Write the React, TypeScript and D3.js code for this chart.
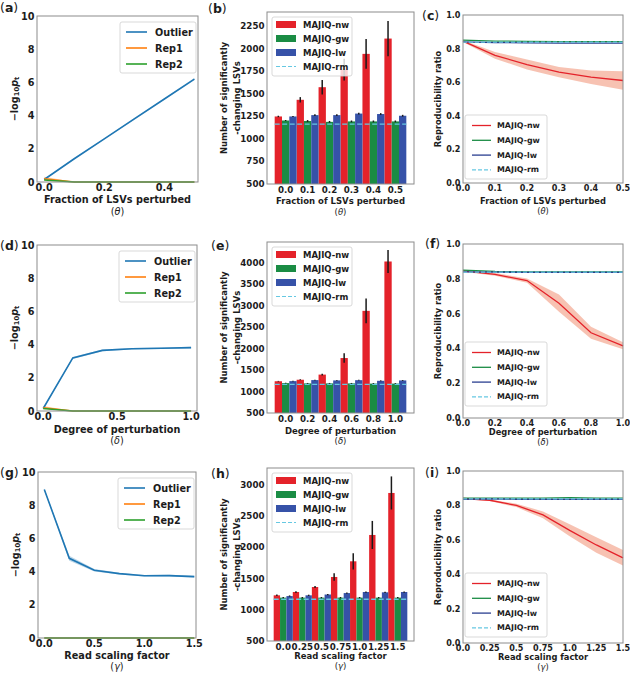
import React from 'react';
import * as d3 from 'd3';

// ---------------- data ----------------
const thetaX = [0, 0.1, 0.2, 0.3, 0.4, 0.5];
const deltaX = [0, 0.2, 0.4, 0.6, 0.8, 1.0];
const gammaX = [0, 0.25, 0.5, 0.75, 1.0, 1.25, 1.5];

const thetaCats = ['0.0', '0.1', '0.2', '0.3', '0.4', '0.5'];
const deltaCats = ['0.0', '0.2', '0.4', '0.6', '0.8', '1.0'];
const gammaCats = ['0.0', '0.25', '0.5', '0.75', '1.0', '1.25', '1.5'];

const scoreTicks = [0, 2, 4, 6, 8, 10];
const aTicks = [0, 0.2, 0.4];
const aTickLabels = ['0.0', '0.2', '0.4'];
const dTicks = [0, 0.5, 1.0];
const dTickLabels = ['0.0', '0.5', '1.0'];
const gTicks = [0, 0.5, 1.0, 1.5];
const gTickLabels = ['0.0', '0.5', '1.0', '1.5'];

// (a) (d) (g): -log10 p
const outlierTheta = [0.15, 1.4, 2.6, 3.8, 5.0, 6.2];
const outlierThetaErr = [0.03, 0.04, 0.04, 0.05, 0.05, 0.06];
const rep1Theta = [0.2, 0.0, 0.0, 0.0, 0.0, 0.0];
const rep1ThetaErr = [0.12, 0.0, 0.0, 0.0, 0.0, 0.0];
const rep2Theta = [0.12, 0.0, 0.0, 0.0, 0.0, 0.0];

const outlierDelta = [0.15, 3.2, 3.65, 3.75, 3.78, 3.82];
const outlierDeltaErr = [0.03, 0.06, 0.05, 0.05, 0.05, 0.05];
const rep1Delta = [0.2, 0.0, 0.0, 0.0, 0.0, 0.0];
const rep1DeltaErr = [0.1, 0.0, 0.0, 0.0, 0.0, 0.0];
const rep2Delta = [0.15, 0.0, 0.0, 0.0, 0.0, 0.0];

const outlierGamma = [8.95, 4.8, 4.08, 3.88, 3.75, 3.76, 3.7];
const outlierGammaErr = [0.05, 0.15, 0.08, 0.05, 0.05, 0.05, 0.05];
const rep1Gamma = [0.0, 0.0, 0.0, 0.0, 0.0, 0.0, 0.0];
const rep1GammaErr = [0.0, 0.0, 0.0, 0.0, 0.0, 0.0, 0.0];
const rep2Gamma = [0.0, 0.0, 0.0, 0.0, 0.0, 0.0, 0.0];

// (b) (e) (h): number of significantly changing LSVs
const nwTheta = [1250, 1435, 1575, 1770, 1945, 2115];
const nwThetaErr = [8, 30, 80, 120, 165, 195];
const gwTheta = [1205, 1200, 1190, 1195, 1195, 1195];
const lwTheta = [1250, 1265, 1265, 1282, 1277, 1258];
const smallErrTheta = [6, 10, 10, 10, 10, 10];
const rmTheta = 1165;
const yTicksTheta = [500, 750, 1000, 1250, 1500, 1750, 2000, 2250];

const nwDelta = [1240, 1275, 1395, 1780, 2880, 4030];
const nwDeltaErr = [8, 10, 20, 110, 290, 270];
const gwDelta = [1197, 1190, 1190, 1190, 1185, 1185];
const lwDelta = [1243, 1267, 1259, 1265, 1250, 1259];
const smallErrDelta = [8, 10, 10, 10, 10, 10];
const rmDelta = 1166;
const yTicksDelta = [500, 1000, 1500, 2000, 2500, 3000, 3500, 4000];

const nwGamma = [1232, 1285, 1365, 1526, 1777, 2199, 2872];
const nwGammaErr = [12, 14, 16, 60, 130, 225, 265];
const gwGamma = [1195, 1195, 1195, 1195, 1195, 1195, 1195];
const lwGamma = [1220, 1232, 1245, 1268, 1285, 1280, 1285];
const smallErrGamma = [10, 10, 10, 10, 10, 10, 10];
const rmGamma = 1170;
const yTicksGamma = [500, 1000, 1500, 2000, 2500, 3000];

// (c) (f) (i): reproducibility ratio
const ratioTicks = [0, 0.2, 0.4, 0.6, 0.8, 1.0];
const ratioTickLabels = ['0.0', '0.2', '0.4', '0.6', '0.8', '1.0'];

const nwRepTheta = [0.845, 0.76, 0.705, 0.66, 0.63, 0.61];
const nwRepThetaErr = [0.005, 0.02, 0.03, 0.03, 0.04, 0.055];
const gwRepTheta = [0.85, 0.845, 0.843, 0.842, 0.842, 0.842];
const lwRepTheta = [0.84, 0.836, 0.834, 0.833, 0.832, 0.832];
const rmRepTheta = [0.838, 0.838, 0.838, 0.838, 0.838, 0.838];

const nwRepDelta = [0.845, 0.825, 0.79, 0.66, 0.49, 0.415];
const nwRepDeltaErr = [0.005, 0.008, 0.012, 0.05, 0.035, 0.02];
const gwRepDelta = [0.85, 0.842, 0.84, 0.84, 0.84, 0.84];
const lwRepDelta = [0.84, 0.838, 0.837, 0.837, 0.837, 0.837];
const rmRepDelta = [0.838, 0.838, 0.838, 0.838, 0.838, 0.838];

const nwRepGamma = [0.84, 0.83, 0.80, 0.745, 0.655, 0.57, 0.495];
const nwRepGammaErr = [0.003, 0.005, 0.01, 0.02, 0.035, 0.045, 0.045];
const gwRepGamma = [0.842, 0.842, 0.842, 0.842, 0.845, 0.842, 0.842];
const lwRepGamma = [0.835, 0.838, 0.835, 0.835, 0.835, 0.835, 0.835];
const rmRepGamma = [0.838, 0.838, 0.838, 0.838, 0.838, 0.838, 0.838];

// ---------------- style ----------------
const FONT = "'DejaVu Sans', 'Liberation Sans', sans-serif";
const INK = '#1c1c1c';
const SPINE = '#8c8c8c';
const C_OUT = '#1f77b4';
const C_REP1 = '#ff7f0e';
const C_REP2 = '#2ca02c';
const C_NW = '#e4222a';
const C_GW = '#1a8c44';
const C_LW = '#3652a8';
const C_LW_LINE = '#2a3f90';
const C_RM = '#66c8e2';
const C_BAND = '#f29a7e';

type Box = { l: number; r: number; t: number; b: number };

const tp = (fs: number, weight = 700) => ({ fontFamily: FONT, fontSize: fs, fontWeight: weight, fill: INK });

function Frame({ box }: { box: Box }) {
  return <rect x={box.l} y={box.t} width={box.r - box.l} height={box.b - box.t} fill="none" stroke={SPINE} strokeWidth={1} />;
}

function Letter({ letter, pos }: { letter: string; pos: [number, number] }) {
  return (
    <text x={pos[0]} y={pos[1]} {...tp(12.5, 400)}>
      (<tspan fontWeight={700}>{letter}</tspan>)
    </text>
  );
}

function YTickLabels({ box, y, ticks, labels, fs }: any) {
  return (
    <g>
      {ticks.map((t: number, i: number) => (
        <text key={i} x={box.l - 2.5} y={y(t)} textAnchor="end" dominantBaseline="central" {...tp(fs)}>
          {labels[i]}
        </text>
      ))}
    </g>
  );
}

function XTickLabels({ box, xs, labels, fs }: any) {
  return (
    <g>
      {xs.map((xv: number, i: number) => (
        <text key={i} x={xv} y={box.b + 2 + fs * 0.76} textAnchor="middle" {...tp(fs)}>
          {labels[i]}
        </text>
      ))}
    </g>
  );
}

function XLabel({ cx, xl, text, sym, fs }: any) {
  return (
    <g>
      <text x={cx} y={xl[0]} textAnchor="middle" dominantBaseline="central" {...tp(fs)}>
        {text}
      </text>
      <text x={cx} y={xl[1]} textAnchor="middle" dominantBaseline="central" {...tp(fs, 400)}>
        (<tspan fontStyle="italic">{sym}</tspan>)
      </text>
    </g>
  );
}

function LegendBox({ x, y, w, h }: any) {
  return <rect x={x} y={y} width={w} height={h} rx={2} fill="#ffffff" fillOpacity={0.8} stroke="#cfcfcf" strokeWidth={0.8} />;
}

// ---------------- panels ----------------
function LinePanel(p: any) {
  const box: Box = p.box;
  const fs = 9.7;
  const x = d3.scaleLinear().domain(p.xDomain).range([box.l, box.r]);
  const y = d3.scaleLinear().domain([0, 10]).range([box.b, box.t]);
  const line = d3.line<number>().x((_, i) => x(p.xs[i])).y((d) => y(d));
  const band = (vals: number[], errs: number[]) =>
    d3.area<number>()
      .x((_, i) => x(p.xs[i]))
      .y0((d, i) => y(Math.max(0, d - errs[i])))
      .y1((d, i) => y(d + errs[i]))(vals) as string;
  const lg = { x: box.r - 78, y: box.t + 6, w: 76, h: 51 };
  const items = [
    { name: 'Outlier', c: C_OUT },
    { name: 'Rep1', c: C_REP1 },
    { name: 'Rep2', c: C_REP2 },
  ];
  return (
    <g>
      <path d={band(p.rep1, p.rep1Err)} fill={C_REP1} fillOpacity={0.35} />
      <path d={band(p.outlier, p.outlierErr)} fill={C_OUT} fillOpacity={0.3} />
      <path d={line(p.outlier) as string} fill="none" stroke={C_OUT} strokeWidth={1.6} />
      <path d={line(p.rep1) as string} fill="none" stroke={C_REP1} strokeWidth={1.6} />
      <path d={line(p.rep2) as string} fill="none" stroke={C_REP2} strokeWidth={1.6} />
      <Frame box={box} />
      <YTickLabels box={box} y={y} ticks={scoreTicks} labels={scoreTicks.map(String)} fs={fs} />
      <XTickLabels box={box} xs={p.xTicks.map((t: number) => x(t))} labels={p.xTickLabels} fs={fs} />
      <XLabel cx={(box.l + box.r) / 2} xl={p.xl} text={p.xlabel} sym={p.sym} fs={fs} />
      <text transform={`translate(${box.l - 23},${(box.t + box.b) / 2}) rotate(-90)`} textAnchor="middle" dominantBaseline="central" {...tp(fs)}>
        <tspan>−log</tspan>
        <tspan fontSize={fs * 0.7} dy={fs * 0.3}>10</tspan>
        <tspan fontStyle="italic" dy={-fs * 0.3}>p</tspan>
        <tspan fontSize={fs * 0.7} dy={fs * 0.3}>t</tspan>
      </text>
      <LegendBox {...lg} />
      {items.map((it, i) => (
        <g key={it.name}>
          <line x1={lg.x + 6} x2={lg.x + 27} y1={lg.y + 10 + i * 16} y2={lg.y + 10 + i * 16} stroke={it.c} strokeWidth={1.6} />
          <text x={lg.x + 35} y={lg.y + 10 + i * 16} dominantBaseline="central" {...tp(fs)}>
            {it.name}
          </text>
        </g>
      ))}
      <Letter letter={p.letter} pos={p.letterPos} />
    </g>
  );
}

function BarPanel(p: any) {
  const box: Box = p.box;
  const fsT = 8.7;
  const fs = 8.5;
  const x0 = d3.scaleBand<string>().domain(p.cats).range([box.l, box.r]).paddingInner(0).paddingOuter(0.35);
  const x1 = d3.scaleBand<string>().domain(['nw', 'gw', 'lw']).range([0, x0.bandwidth()]).padding(0);
  const y = d3.scaleLinear().domain([500, p.yMax]).range([box.b, box.t]);
  const series = [
    { key: 'nw', vals: p.nw, errs: p.nwErr, c: C_NW },
    { key: 'gw', vals: p.gw, errs: p.smallErr, c: C_GW },
    { key: 'lw', vals: p.lw, errs: p.smallErr, c: C_LW },
  ];
  const lg = { x: box.l + 5, y: box.t + 5, w: 80, h: 59 };
  const first = x0(p.cats[0]) as number;
  const last = (x0(p.cats[p.cats.length - 1]) as number) + x0.bandwidth();
  return (
    <g>
      {series.map((s) =>
        p.cats.map((c: string, i: number) => {
          const bx = (x0(c) as number) + (x1(s.key) as number);
          return <rect key={s.key + c} x={bx} y={y(s.vals[i])} width={x1.bandwidth()} height={box.b - y(s.vals[i])} fill={s.c} />;
        })
      )}
      <line x1={first} x2={last} y1={y(p.rm)} y2={y(p.rm)} stroke={C_RM} strokeWidth={1.4} strokeDasharray="5,2.5" />
      {series.map((s) =>
        p.cats.map((c: string, i: number) => {
          const cx = (x0(c) as number) + (x1(s.key) as number) + x1.bandwidth() / 2;
          return <line key={'e' + s.key + c} x1={cx} x2={cx} y1={y(s.vals[i] - s.errs[i])} y2={y(s.vals[i] + s.errs[i])} stroke="#1a1a1a" strokeWidth={1.5} />;
        })
      )}
      <Frame box={box} />
      <YTickLabels box={box} y={y} ticks={p.yTicks} labels={p.yTicks.map(String)} fs={fsT} />
      <XTickLabels box={box} xs={p.cats.map((c: string) => (x0(c) as number) + x0.bandwidth() / 2)} labels={p.cats} fs={fsT} />
      <XLabel cx={(box.l + box.r) / 2} xl={p.xl} text={p.xlabel} sym={p.sym} fs={fs} />
      <text transform={`translate(${box.l - 43},${(box.t + box.b) / 2}) rotate(-90)`} textAnchor="middle" dominantBaseline="central" {...tp(fs)}>
        Number of significantly
      </text>
      <text transform={`translate(${box.l - 30.5},${(box.t + box.b) / 2}) rotate(-90)`} textAnchor="middle" dominantBaseline="central" {...tp(fs)}>
        -changing LSVs
      </text>
      <LegendBox {...lg} />
      {['MAJIQ-nw', 'MAJIQ-gw', 'MAJIQ-lw', 'MAJIQ-rm'].map((name, i) => {
        const cy = lg.y + 7.5 + i * 14;
        return (
          <g key={name}>
            {i < 3 ? (
              <rect x={lg.x + 4} y={cy - 3.5} width={20} height={7} fill={[C_NW, C_GW, C_LW][i]} />
            ) : (
              <line x1={lg.x + 4} x2={lg.x + 24} y1={cy} y2={cy} stroke={C_RM} strokeWidth={1.2} strokeDasharray="4,2" />
            )}
            <text x={lg.x + 31} y={cy} dominantBaseline="central" {...tp(fs)}>
              {name}
            </text>
          </g>
        );
      })}
      <Letter letter={p.letter} pos={p.letterPos} />
    </g>
  );
}

function RepPanel(p: any) {
  const box: Box = p.box;
  const fsT = 8.1;
  const fs = 8.3;
  const fsL = 7.9;
  const x = d3.scaleLinear().domain([p.xs[0], p.xs[p.xs.length - 1]]).range([box.l, box.r]);
  const y = d3.scaleLinear().domain([0, 1]).range([box.b, box.t]);
  const line = d3.line<number>().x((_, i) => x(p.xs[i])).y((d) => y(d));
  const area = d3.area<number>()
    .x((_, i) => x(p.xs[i]))
    .y0((d, i) => y(d - p.nwErr[i]))
    .y1((d, i) => y(d + p.nwErr[i]));
  const lg = { x: box.l + 2, y: p.legendTop, w: 82, h: 64 };
  const items = [
    { name: 'MAJIQ-nw', c: C_NW, dash: undefined },
    { name: 'MAJIQ-gw', c: C_GW, dash: undefined },
    { name: 'MAJIQ-lw', c: C_LW_LINE, dash: undefined },
    { name: 'MAJIQ-rm', c: C_RM, dash: '4,2' },
  ];
  return (
    <g>
      <path d={area(p.nw) as string} fill={C_BAND} fillOpacity={0.6} />
      <path d={line(p.nw) as string} fill="none" stroke={C_NW} strokeWidth={1.3} />
      <path d={line(p.gw) as string} fill="none" stroke={C_GW} strokeWidth={1.3} />
      <path d={line(p.lw) as string} fill="none" stroke={C_LW_LINE} strokeWidth={1.3} />
      <path d={line(p.rm) as string} fill="none" stroke={C_RM} strokeWidth={1.2} strokeDasharray="4,2" />
      <Frame box={box} />
      <YTickLabels box={box} y={y} ticks={ratioTicks} labels={ratioTickLabels} fs={fsT} />
      <XTickLabels box={box} xs={p.xTicks.map((t: number) => x(t))} labels={p.xTickLabels} fs={fsT} />
      <XLabel cx={(box.l + box.r) / 2} xl={p.xl} text={p.xlabel} sym={p.sym} fs={fs} />
      <text transform={`translate(${box.l - 25},${(box.t + box.b) / 2}) rotate(-90)`} textAnchor="middle" dominantBaseline="central" {...tp(fs)}>
        Reproducibility ratio
      </text>
      <LegendBox {...lg} />
      {items.map((it, i) => {
        const cy = lg.y + 10.5 + i * 14.8;
        return (
          <g key={it.name}>
            <line x1={lg.x + 7} x2={lg.x + 26} y1={cy} y2={cy} stroke={it.c} strokeWidth={1.3} strokeDasharray={it.dash} />
            <text x={lg.x + 32} y={cy} dominantBaseline="central" {...tp(fsL)}>
              {it.name}
            </text>
          </g>
        );
      })}
      <Letter letter={p.letter} pos={p.letterPos} />
    </g>
  );
}

export default function App() {
  return (
    <svg width={630} height={673} viewBox="0 0 630 673" style={{ position: 'absolute', left: 0, top: 0, background: '#fff' }}>
      <rect x={0} y={0} width={630} height={673} fill="#fff" />
      {/* Row 1 */}
      <LinePanel box={{ l: 37, r: 198, t: 16, b: 182 }} xDomain={[-0.024, 0.512]} xs={thetaX}
        xTicks={aTicks} xTickLabels={aTickLabels}
        outlier={outlierTheta} outlierErr={outlierThetaErr} rep1={rep1Theta} rep1Err={rep1ThetaErr} rep2={rep2Theta}
        xlabel="Fraction of LSVs perturbed" sym="θ" xl={[199, 211]} letter="a" letterPos={[0, 12]} />
      <BarPanel box={{ l: 267, r: 414, t: 12, b: 184 }} cats={thetaCats} yMax={2410} yTicks={yTicksTheta}
        nw={nwTheta} nwErr={nwThetaErr} gw={gwTheta} lw={lwTheta} smallErr={smallErrTheta} rm={rmTheta}
        xlabel="Fraction of LSVs perturbed" sym="θ" xl={[201, 212]} letter="b" letterPos={[208, 13]} />
      <RepPanel box={{ l: 463, r: 623, t: 15, b: 183 }} xs={thetaX} xTicks={thetaX} xTickLabels={thetaCats}
        nw={nwRepTheta} nwErr={nwRepThetaErr} gw={gwRepTheta} lw={lwRepTheta} rm={rmRepTheta} legendTop={115}
        xlabel="Fraction of LSVs perturbed" sym="θ" xl={[201, 211]} letter="c" letterPos={[422, 20]} />
      {/* Row 2 */}
      <LinePanel box={{ l: 37, r: 197, t: 245, b: 411 }} xDomain={[-0.042, 1.04]} xs={deltaX}
        xTicks={dTicks} xTickLabels={dTickLabels}
        outlier={outlierDelta} outlierErr={outlierDeltaErr} rep1={rep1Delta} rep1Err={rep1DeltaErr} rep2={rep2Delta}
        xlabel="Degree of perturbation" sym="δ" xl={[429, 440]} letter="d" letterPos={[0, 250]} />
      <BarPanel box={{ l: 267, r: 414, t: 242, b: 413 }} cats={deltaCats} yMax={4484} yTicks={yTicksDelta}
        nw={nwDelta} nwErr={nwDeltaErr} gw={gwDelta} lw={lwDelta} smallErr={smallErrDelta} rm={rmDelta}
        xlabel="Degree of perturbation" sym="δ" xl={[431, 441]} letter="e" letterPos={[211, 250]} />
      <RepPanel box={{ l: 463, r: 623, t: 244, b: 418 }} xs={deltaX} xTicks={deltaX} xTickLabels={deltaCats}
        nw={nwRepDelta} nwErr={nwRepDeltaErr} gw={gwRepDelta} lw={lwRepDelta} rm={rmRepDelta} legendTop={342}
        xlabel="Degree of perturbation" sym="δ" xl={[432, 442]} letter="f" letterPos={[425, 248]} />
      {/* Row 3 */}
      <LinePanel box={{ l: 38, r: 196, t: 472, b: 638 }} xDomain={[-0.063, 1.517]} xs={gammaX}
        xTicks={gTicks} xTickLabels={gTickLabels}
        outlier={outlierGamma} outlierErr={outlierGammaErr} rep1={rep1Gamma} rep1Err={rep1GammaErr} rep2={rep2Gamma}
        xlabel="Read scaling factor" sym="γ" xl={[655, 666]} letter="g" letterPos={[0, 477]} />
      <BarPanel box={{ l: 267, r: 414, t: 468, b: 641 }} cats={gammaCats} yMax={3272} yTicks={yTicksGamma}
        nw={nwGamma} nwErr={nwGammaErr} gw={gwGamma} lw={lwGamma} smallErr={smallErrGamma} rm={rmGamma}
        xlabel="Read scaling factor" sym="γ" xl={[656, 666]} letter="h" letterPos={[211, 478]} />
      <RepPanel box={{ l: 463, r: 623, t: 471, b: 643 }} xs={gammaX} xTicks={gammaX} xTickLabels={gammaCats}
        nw={nwRepGamma} nwErr={nwRepGammaErr} gw={gwRepGamma} lw={lwRepGamma} rm={rmRepGamma} legendTop={573}
        xlabel="Read scaling factor" sym="γ" xl={[657, 667]} letter="i" letterPos={[425, 477]} />
    </svg>
  );
}
